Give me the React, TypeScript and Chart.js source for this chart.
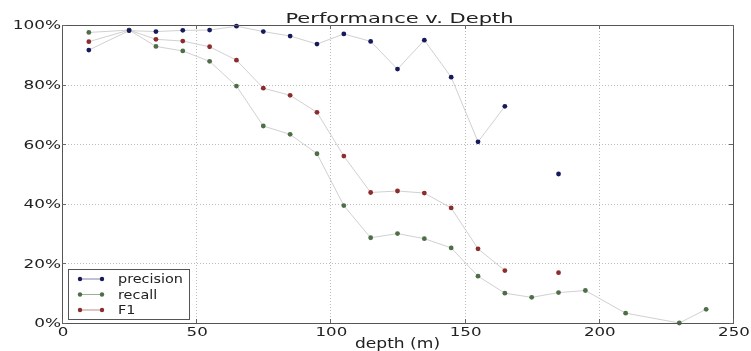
import React, { useEffect, useRef } from "react";
import { Chart, registerables } from "chart.js";

Chart.register(...registerables);

const TITLE = "Performance v. Depth";
const X_LABEL = "depth (m)";
const DEPTHS = [10, 25, 35, 45, 55, 65, 75, 85, 95, 105, 115, 125, 135, 145, 155, 165, 175, 185, 195, 210, 230, 240];
const PRECISION = [91.6, 98.1, 97.8, 98.2, 98.3, 99.6, 97.8, 96.3, 93.6, 97.0, 94.5, 85.2, 94.9, 82.5, 60.8, 72.7, null, 50.0, null, null, null, null];
const RECALL = [97.5, 98.3, 92.8, 91.3, 87.8, 79.5, 66.1, 63.3, 56.8, 39.4, 28.6, 30.0, 28.3, 25.2, 15.7, 10.0, 8.6, 10.2, 10.9, 3.3, 0, 4.6];
const F1 = [94.4, 98.3, 95.2, 94.6, 92.7, 88.2, 78.8, 76.4, 70.7, 56.0, 43.8, 44.3, 43.6, 38.6, 24.9, 17.6, null, 16.9, null, null, null, null];
const SERIES_NAMES = ["precision", "recall", "F1"];
const SERIES_COLORS = ["#161a5c", "#4d6e47", "#8e2b2b"];
const X_TICKS = [0, 50, 100, 150, 200, 250];
const X_TICK_LABELS = ["0", "50", "100", "150", "200", "250"];
const Y_TICKS = [0, 20, 40, 60, 80, 100];
const Y_TICK_LABELS = ["0%", "20%", "40%", "60%", "80%", "100%"];

const FONT = '"DejaVu Sans", sans-serif';

function drawText(ctx: CanvasRenderingContext2D, text: string, x: number, y: number, size: number, sx: number, align: string, baseline: CanvasTextBaseline) {
  ctx.save();
  ctx.font = `${size}px ${FONT}`;
  ctx.textBaseline = baseline;
  ctx.textAlign = "left";
  const w = ctx.measureText(text).width * sx;
  const left = align === "center" ? x - w / 2 : align === "right" ? x - w : x;
  ctx.translate(left, y);
  ctx.scale(sx, 1);
  ctx.fillText(text, 0, 0);
  ctx.restore();
}

const customPlugin = {
  id: "customDecor",
  beforeDatasetsDraw(chart: any) {
    const { ctx, chartArea: a, scales } = chart;
    const x = scales.x;
    const y = scales.y;
    ctx.save();
    ctx.strokeStyle = "#bcbcbc";
    ctx.lineWidth = 1;
    ctx.setLineDash([1, 2]);
    X_TICKS.forEach((v) => {
      if (v <= x.min || v >= x.max) return;
      const px = Math.round(x.getPixelForValue(v)) + 0.5;
      ctx.beginPath();
      ctx.moveTo(px, a.top);
      ctx.lineTo(px, a.bottom);
      ctx.stroke();
    });
    Y_TICKS.forEach((v) => {
      if (v <= y.min || v >= y.max) return;
      const py = Math.round(y.getPixelForValue(v)) + 0.5;
      ctx.beginPath();
      ctx.moveTo(a.left, py);
      ctx.lineTo(a.right, py);
      ctx.stroke();
    });
    ctx.restore();
  },
  afterDraw(chart: any) {
    const { ctx, chartArea: a, scales } = chart;
    const x = scales.x;
    const y = scales.y;
    ctx.save();
    ctx.strokeStyle = "#555555";
    ctx.lineWidth = 1;
    ctx.strokeRect(Math.round(a.left) + 0.5, Math.round(a.top) + 0.5, Math.round(a.right - a.left), Math.round(a.bottom - a.top));
    ctx.strokeStyle = "#666666";
    X_TICKS.forEach((v) => {
      const px = Math.round(x.getPixelForValue(v)) + 0.5;
      ctx.beginPath();
      ctx.moveTo(px, a.bottom);
      ctx.lineTo(px, a.bottom - 4);
      ctx.moveTo(px, a.top);
      ctx.lineTo(px, a.top + 4);
      ctx.stroke();
    });
    Y_TICKS.forEach((v) => {
      const py = Math.round(y.getPixelForValue(v)) + 0.5;
      ctx.beginPath();
      ctx.moveTo(a.left, py);
      ctx.lineTo(a.left + 4, py);
      ctx.moveTo(a.right, py);
      ctx.lineTo(a.right - 4, py);
      ctx.stroke();
    });
    ctx.fillStyle = "#222222";
    X_TICKS.forEach((v, i) => {
      drawText(ctx, X_TICK_LABELS[i], x.getPixelForValue(v) + 1, a.bottom + 3, 13, 1.28, "center", "top");
    });
    Y_TICKS.forEach((v, i) => {
      drawText(ctx, Y_TICK_LABELS[i], a.left - 1, y.getPixelForValue(v) + 1, 13, 1.3, "right", "middle");
    });
    drawText(ctx, X_LABEL, (a.left + a.right) / 2, 348, 14, 1.22, "center", "alphabetic");
    drawText(ctx, TITLE, (a.left + a.right) / 2 + 2, 23, 14.5, 1.45, "center", "alphabetic");
    const lx = a.left + 6;
    const ly = 269;
    const lw = 121;
    const lh = 50;
    ctx.fillStyle = "#ffffff";
    ctx.fillRect(lx, ly, lw, lh);
    ctx.strokeStyle = "#555555";
    ctx.strokeRect(lx + 0.5, ly + 0.5, lw, lh);
    chart.data.datasets.forEach((ds: any, i: number) => {
      const ry = ly + 10 + i * 15.5;
      const c = ds.pointBackgroundColor;
      ctx.save();
      ctx.globalAlpha = 0.55;
      ctx.strokeStyle = c;
      ctx.beginPath();
      ctx.moveTo(lx + 12, ry);
      ctx.lineTo(lx + 34, ry);
      ctx.stroke();
      ctx.restore();
      ctx.fillStyle = c;
      [lx + 12, lx + 34].forEach((mx) => {
        ctx.beginPath();
        ctx.arc(mx, ry, 2.2, 0, Math.PI * 2);
        ctx.fill();
      });
      ctx.fillStyle = "#222222";
      drawText(ctx, ds.label, lx + 50, ry + 1, 12, 1.2, "left", "middle");
    });
    ctx.restore();
  },
};

function toPoints(vals: (number | null)[]) {
  return DEPTHS.map((d, i) => ({ x: d, y: vals[i] }));
}

export default function App() {
  const ref = useRef<HTMLCanvasElement>(null);
  useEffect(() => {
    document.body.style.margin = "0";
    const canvas = ref.current;
    if (!canvas) return;
    const seriesVals = [PRECISION, RECALL, F1];
    const chart = new Chart(canvas, {
      type: "line",
      data: {
        datasets: seriesVals.map((vals, i) => ({
          label: SERIES_NAMES[i],
          data: toPoints(vals) as any,
          borderColor: "rgba(205,205,205,0.95)",
          borderWidth: 1,
          pointBackgroundColor: SERIES_COLORS[i],
          pointBorderWidth: 0,
          pointRadius: 2.4,
          spanGaps: false,
          tension: 0,
          clip: 3,
        })),
      },
      options: {
        animation: false,
        responsive: false,
        devicePixelRatio: 1,
        layout: { padding: { left: 62, right: 18, top: 25, bottom: 28 } },
        plugins: {
          legend: { display: false },
          title: { display: false },
          tooltip: { enabled: false },
        },
        scales: {
          x: {
            type: "linear",
            min: 0,
            max: 250,
            ticks: { display: false, stepSize: 50 },
            grid: { display: false, drawTicks: false },
            border: { display: false },
            afterFit: (s: any) => {
              s.height = 0;
            },
          },
          y: {
            type: "linear",
            min: 0,
            max: 100,
            ticks: { display: false, stepSize: 20 },
            grid: { display: false, drawTicks: false },
            border: { display: false },
            afterFit: (s: any) => {
              s.width = 0;
            },
          },
        },
      },
      plugins: [customPlugin],
    });
    return () => chart.destroy();
  }, []);
  return (
    <div style={{ width: 751, height: 351, background: "#ffffff" }}>
      <canvas ref={ref} width={751} height={351} style={{ display: "block" }} />
    </div>
  );
}
